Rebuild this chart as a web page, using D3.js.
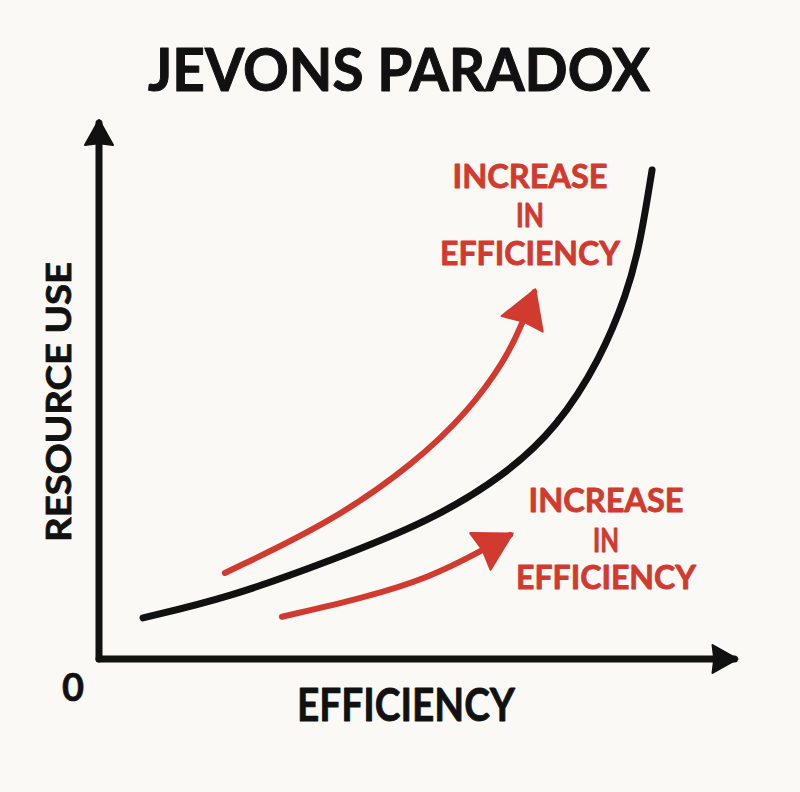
<!DOCTYPE html>
<html><head><meta charset="utf-8">
<script src="https://cdn.jsdelivr.net/npm/d3@7"></script>
<style>html,body{margin:0;padding:0;background:#fbf9f5;}svg{display:block;}</style>
</head><body>
<script>
// ---- data (in chart units: efficiency 0-100, resource use 0-100) ----
const curveEff   = [7.1, 21.1, 37.3, 53.4, 65.5, 73.9, 80.8, 85.2, 87.3, 89.2];
const curveUse   = [7.8, 11.7, 18.6, 26.1, 34.8, 43.9, 56.6, 69.3, 78.8, 92.6];
const arrowUpEff = [20.3, 37.3, 51.0, 59.8, 65.5, 68.2, 70.2];
const arrowUpUse = [16.3, 25.8, 37.1, 47.2, 56.6, 63.3, 69.5];
const arrowLoEff = [29.5, 43.2, 53.4, 61.1, 66.3];
const arrowLoUse = [8.0, 11.7, 15.5, 20.1, 23.5];
const axisEnds   = [102.5, 101.5]; // x-axis end, y-axis end
const originLabel = "0";
const title = "JEVONS PARADOX";
const xTitle = "EFFICIENCY";
const yTitle = "RESOURCE USE";
const annotation = ["INCREASE", "IN", "EFFICIENCY"];

const W = 800, H = 792;
const svg = d3.select("body").append("svg").attr("width", W).attr("height", H);
svg.append("rect").attr("width", W).attr("height", H).attr("fill", "#fbf9f5");

const x = d3.scaleLinear().domain([0, 100]).range([99, 719]);
const y = d3.scaleLinear().domain([0, 100]).range([659, 131]);

const RED = "#d13a2f", BLACK = "#111111";
const defs = svg.append("defs");
function marker(id, color, len, wid) {
  defs.append("marker").attr("id", id)
    .attr("markerUnits", "userSpaceOnUse")
    .attr("viewBox", `${-len - 2} ${-wid / 2 - 2} ${len + 8} ${wid + 4}`)
    .attr("markerWidth", len + 8).attr("markerHeight", wid + 4)
    .attr("refX", -3).attr("refY", 0).attr("orient", "auto")
    .append("path")
    .attr("d", `M0,0 L${-len},${-wid / 2} L${-len * 0.93},0 L${-len},${wid / 2} Z`)
    .attr("fill", color).attr("stroke", color).attr("stroke-width", 2).attr("stroke-linejoin", "round");
}
marker("axisHead", BLACK, 25, 28);
marker("redHeadUp", RED, 37, 44);
marker("redHeadLo", RED, 37, 42);

// axes
const axisLine = d3.line().x(d => x(d[0])).y(d => y(d[1]));
svg.append("path").attr("d", axisLine([[0, 0], [axisEnds[0], 0]]))
  .attr("stroke", BLACK).attr("stroke-width", 7).attr("fill", "none")
  .attr("stroke-linecap", "round").attr("marker-end", "url(#axisHead)");
svg.append("path").attr("d", axisLine([[0, 0], [0, axisEnds[1]]]))
  .attr("stroke", BLACK).attr("stroke-width", 7).attr("fill", "none")
  .attr("stroke-linecap", "round").attr("marker-end", "url(#axisHead)");

// curves
const line = d3.line().x(d => x(d[0])).y(d => y(d[1])).curve(d3.curveBasis);
svg.append("path").attr("d", line(d3.zip(curveEff, curveUse)))
  .attr("fill", "none").attr("stroke", BLACK).attr("stroke-width", 7).attr("stroke-linecap", "round");
svg.append("path").attr("d", line(d3.zip(arrowUpEff, arrowUpUse)))
  .attr("fill", "none").attr("stroke", RED).attr("stroke-width", 6).attr("stroke-linecap", "round")
  .attr("marker-end", "url(#redHeadUp)");
svg.append("path").attr("d", line(d3.zip(arrowLoEff, arrowLoUse)))
  .attr("fill", "none").attr("stroke", RED).attr("stroke-width", 6).attr("stroke-linecap", "round")
  .attr("marker-end", "url(#redHeadLo)");

const FONT = "Lato, 'Open Sans', 'DejaVu Sans', sans-serif";
function txt(sel, color, sw) {
  return sel.attr("font-family", FONT).attr("font-weight", 700)
    .attr("fill", color).attr("stroke", color).attr("stroke-width", sw).attr("stroke-linejoin", "round");
}
// title
txt(svg.append("text"), BLACK, 1).attr("x", 399).attr("y", 91).attr("text-anchor", "middle")
  .attr("font-size", 59).attr("textLength", 502).attr("lengthAdjust", "spacingAndGlyphs").text(title);

// axis titles
txt(svg.append("text"), BLACK, 0.8).attr("x", 406).attr("y", 721).attr("text-anchor", "middle")
  .attr("font-size", 45).attr("textLength", 218).attr("lengthAdjust", "spacingAndGlyphs").text(xTitle);
txt(svg.append("text"), BLACK, 0.8).attr("transform", "translate(71,402) rotate(-90)").attr("text-anchor", "middle")
  .attr("font-size", 35).attr("textLength", 280).attr("lengthAdjust", "spacingAndGlyphs").text(yTitle);
txt(svg.append("text"), BLACK, 0.6).attr("x", 73).attr("y", 701).attr("text-anchor", "middle")
  .attr("font-size", 38).text(originLabel);

// annotations
function label(cx, baselines, widths) {
  annotation.forEach((t, i) => {
    txt(svg.append("text"), RED, 0.8).attr("x", cx).attr("y", baselines[i]).attr("text-anchor", "middle")
      .attr("font-size", 32).attr("textLength", widths[i]).attr("lengthAdjust", "spacingAndGlyphs").text(t);
  });
}
label(530, [188, 227, 265], [155, 28, 180]);
label(606, [512, 552, 589], [155, 26, 180]);
</script>
</body></html>
